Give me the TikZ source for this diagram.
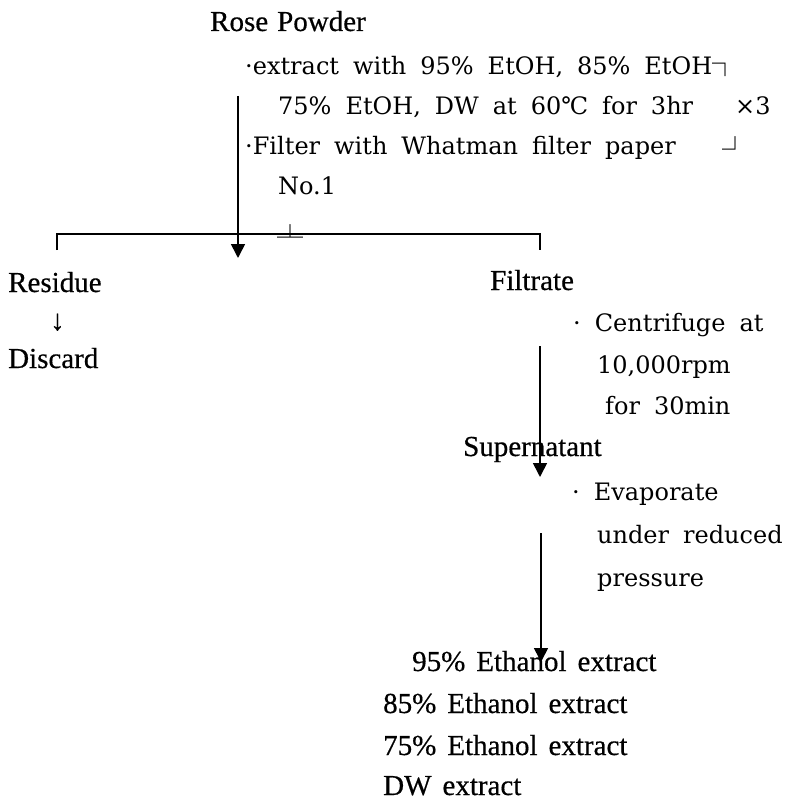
\documentclass[tikz,border=0pt]{standalone}
\usepackage{fontspec}
\setmainfont{Liberation Serif}
\newfontfamily\labfont[FakeBold=0.5]{Liberation Serif}
\newfontfamily\stepfont{DejaVu Serif}
\newfontfamily\boxfont{Noto Sans CJK KR}
\usetikzlibrary{arrows.meta}
\newcommand\sline[1]{{\spaceskip=14pt plus 0pt minus 0pt\relax #1}}
\newcommand\bx[1]{{\boxfont\fontsize{26}{30}\selectfont #1}}
\begin{document}
\begin{tikzpicture}[x=1pt,y=-1pt,
  lab/.style={anchor=base west,inner sep=0pt,font=\labfont\fontsize{29}{32}\selectfont},
  stp/.style={anchor=base west,inner sep=0pt,font=\stepfont\fontsize{24}{28}\selectfont},
  glyph/.style={anchor=base west,inner sep=0pt},
  flow/.style={line width=1.6pt,-{Triangle[width=14pt,length=14pt]}},
  rule/.style={line width=1.3pt}]
\useasboundingbox (0,0) rectangle (792,802);
% top block
\node[lab] (rose) at (210,31) {\spaceskip=9pt\relax Rose Powder};
\node[stp] (s1) at (245,75) {\sline{·extract with 95\% EtOH, 85\% EtOH}\raisebox{1pt}{\bx{┐}}};
\node[stp] (s2) at (278,115) {\sline{75\% EtOH, DW at 60℃ for 3hr}};
\node[stp] (x3) at (735,115) {\sline{×3}};
\node[stp] (s3) at (245,155) {\sline{·Filter with Whatman filter paper}};
\node[glyph] (b2) at (722,160) {\bx{┘}};
\node[stp] (s4) at (278,195) {\sline{No.1}};
\node[glyph] (b3) at (277,247.5) {\bx{┴}};
% split
\coordinate (a1s) at (238,96);
\coordinate (a1e) at (238,258);
\draw[flow] (a1s) -- (a1e);
\coordinate (hl) at (57,234);
\coordinate (hr) at (540,234);
\coordinate (hlb) at (57,250);
\coordinate (hrb) at (540,250);
\draw[rule] (hlb) -- (hl) -- (hr) -- (hrb);
% left branch
\node[lab] (res) at (8,292) {Residue};
\node[lab] (darr) at (50,330) {↓};
\node[lab] (dis) at (8,368) {Discard};
% right branch
\node[lab] (fil) at (490,290) {Filtrate};
\node[stp] (c1) at (573,331) {\sline{· Centrifuge at}};
\node[stp] (c2) at (597,373) {\sline{10,000rpm}};
\node[stp] (c3) at (605,414) {\sline{for 30min}};
\coordinate (a2s) at (540,346);
\coordinate (a2e) at (540,477);
\draw[flow] (a2s) -- (a2e);
\node[lab] (sup) at (463,456) {Supernatant};
\node[stp] (e1) at (572,500) {\sline{· Evaporate}};
\node[stp] (e2) at (597,543) {\sline{under reduced}};
\node[stp] (e3) at (597,586) {\sline{pressure}};
\coordinate (a3s) at (541,533);
\coordinate (a3e) at (541,662);
\draw[flow] (a3s) -- (a3e);
% products
\node[lab] (r1) at (412,671) {\spaceskip=11pt\relax 95\% Ethanol extract};
\node[lab] (r2) at (383,713) {\spaceskip=11pt\relax 85\% Ethanol extract};
\node[lab] (r3) at (383,755) {\spaceskip=11pt\relax 75\% Ethanol extract};
\node[lab] (r4) at (383,795) {\spaceskip=11pt\relax DW extract};
\end{tikzpicture}
\end{document}
